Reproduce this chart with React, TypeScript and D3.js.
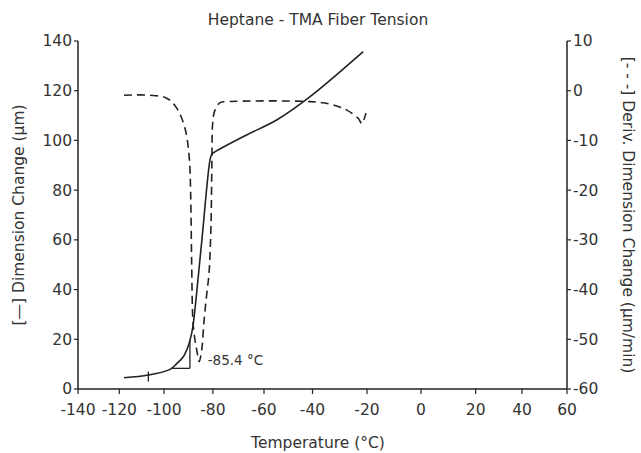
import React from "react";
import * as d3 from "d3";

const title = "Heptane - TMA Fiber Tension";
const xTicks = [-140, -120, -100, -80, -60, -40, -20, 0, 20, 40, 60];
const yLeftTicks = [0, 20, 40, 60, 80, 100, 120, 140];
const yRightTicks = [10, 0, -10, -20, -30, -40, -50, -60];

// Solid: dimension change (µm)
const solidT = [-117.9, -107, -97.5, -94.8, -92.1, -90.2, -88.7, -88.0, -84.6, -81.2, -80.5, -79.2, -66.8, -54.8, -41.0, -21.4];
const solidV = [4.5, 5.6, 7.9, 10.2, 13, 17, 22.4, 26.4, 59, 92.1, 94.4, 95.4, 102.2, 108.2, 117.6, 135.7];

// Dashed: derivative (µm/min)
const derivT = [-117.9, -106.3, -98.9, -94.8, -91.4, -89.7, -89.1, -88.7, -88.0, -86.6, -85.6, -84.6, -83.6, -82.5, -81.6, -80.8, -80.4, -80.1, -79.2, -77.2, -74.6, -41.0, -33.6, -27.4, -23.2, -21.9, -20.4];
const derivV = [-0.9, -0.9, -1.5, -3.5, -7.6, -13.3, -20.6, -34.1, -47.5, -52.2, -54.5, -52.2, -46.1, -40.8, -36.8, -27.4, -13.9, -6.6, -3.9, -2.4, -2.2, -2.2, -2.7, -3.9, -5.6, -6.6, -4.5];

// Onset construction
const onsetLabel = "-85.4 °C";
const onsetT = -85.4;
const baseT = [-97.1, -89.4];
const baseV = 8.3;
const riseTop = 19.7;
const markT = -107;
const markV = [3, 7];

export default function App() {
  const W = 641, H = 453;
  const left = 78, right = 567, top = 41, bottom = 389;
  const xPx = [78, 119.3, 164, 212.9, 264, 312.5, 367, 421, 475.7, 522, 567];
  const x = d3.scaleLinear().domain(xTicks).range(xPx);
  const yL = d3.scaleLinear().domain([0, 140]).range([bottom, top]);
  const yR = d3.scaleLinear().domain([-60, 10]).range([bottom, top]);

  const solid = d3.line<number>().x((_, i) => x(solidT[i])).y((d) => yL(d)).curve(d3.curveCatmullRom)(solidV)!;
  const dashed = d3.line<number>().x((_, i) => x(derivT[i])).y((d) => yR(d)).curve(d3.curveCatmullRom)(derivV)!;

  const font = "'DejaVu Sans', sans-serif";
  const col = "#333";
  const fs = 15.5;

  return (
    <svg width={W} height={H} style={{ position: "absolute", left: 0, top: 0 }} fontFamily={font}>
      <rect width={W} height={H} fill="#fff" />
      <text x={318} y={25} textAnchor="middle" fontSize={15.5} fill={col}>{title}</text>
      {/* axes */}
      <line x1={left} x2={left} y1={top} y2={bottom} stroke="#222" strokeWidth={1.5} />
      <line x1={right} x2={right} y1={top} y2={bottom} stroke="#222" strokeWidth={1.5} />
      <line x1={left} x2={right} y1={bottom} y2={bottom} stroke="#222" strokeWidth={1.5} />
      {yLeftTicks.map((t) => (
        <g key={"l" + t}>
          <line x1={left - 4} x2={left} y1={yL(t)} y2={yL(t)} stroke="#222" strokeWidth={1.2} />
          <text x={left - 6} y={yL(t)} dy="0.35em" textAnchor="end" fontSize={fs} fill={col}>{t}</text>
        </g>
      ))}
      {yRightTicks.map((t) => (
        <g key={"r" + t}>
          <line x1={right} x2={right + 4} y1={yR(t)} y2={yR(t)} stroke="#222" strokeWidth={1.2} />
          <text x={right + 6} y={yR(t)} dy="0.35em" textAnchor="start" fontSize={fs} fill={col}>{t}</text>
        </g>
      ))}
      {xTicks.map((t) => (
        <g key={"x" + t}>
          <line x1={x(t)} x2={x(t)} y1={bottom} y2={bottom + 5} stroke="#222" strokeWidth={1.2} />
          <text x={x(t)} y={bottom + 26} textAnchor="middle" fontSize={fs} fill={col}>{t}</text>
        </g>
      ))}
      <text x={318} y={448} textAnchor="middle" fontSize={fs} fill={col}>Temperature (°C)</text>
      <text transform={`translate(24,${(top + bottom) / 2}) rotate(-90)`} textAnchor="middle" fontSize={fs} fill={col}>[—] Dimension Change (µm)</text>
      <text transform={`translate(623,${(top + bottom) / 2}) rotate(90)`} textAnchor="middle" fontSize={fs} fill={col}>[- - -] Deriv. Dimension Change (µm/min)</text>
      {/* data */}
      <path d={solid} fill="none" stroke="#222" strokeWidth={1.6} />
      <path d={dashed} fill="none" stroke="#222" strokeWidth={1.6} strokeDasharray="8,5" />
      {/* onset construction */}
      <line x1={x(baseT[0])} x2={x(baseT[1])} y1={yL(baseV)} y2={yL(baseV)} stroke="#222" strokeWidth={1.3} />
      <line x1={x(baseT[1])} x2={x(baseT[1])} y1={yL(baseV)} y2={yL(riseTop)} stroke="#222" strokeWidth={1.3} />
      <line x1={x(markT)} x2={x(markT)} y1={yL(markV[0])} y2={yL(markV[1])} stroke="#222" strokeWidth={1.3} />
      <text x={x(onsetT) + 8} y={yR(-54.5) + 3} fontSize={13.5} fill={col}>{onsetLabel}</text>
    </svg>
  );
}
